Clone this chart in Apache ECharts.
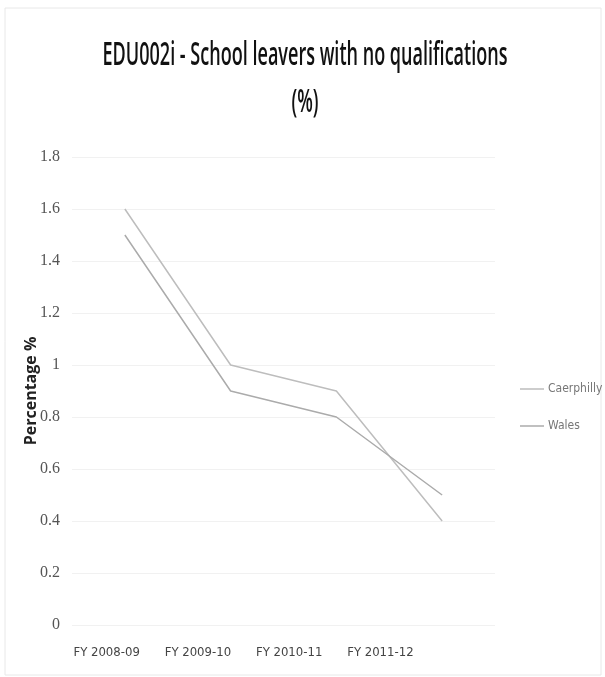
<!DOCTYPE html>
<html>
<head>
<meta charset="utf-8">
<script src="https://cdn.jsdelivr.net/npm/echarts@6/dist/echarts.min.js"></script>
<style>
html,body{margin:0;padding:0;background:#fff;}
#chart{width:605px;height:677px;}
</style>
</head>
<body>
<div id="chart"></div>
<script>
var categories = ['FY 2008-09', 'FY 2009-10', 'FY 2010-11', 'FY 2011-12'];
var caerphilly = [1.6, 1.0, 0.9, 0.4];
var wales = [1.5, 0.9, 0.8, 0.5];
var yTicks = { min: 0, max: 1.8, interval: 0.2 };
var titleLine1 = 'EDU002i - School leavers with no qualifications';
var titleLine2 = '(%)';
var yName = 'Percentage %';

var titleFont = '600 33px "Open Sans", "Noto Sans", sans-serif';
var cv = document.createElement('canvas').getContext('2d');
cv.font = titleFont;
var w1 = cv.measureText(titleLine1).width;
var sx = 405 / w1;

var chart = echarts.init(document.getElementById('chart'), null, {renderer: 'canvas'});
var narrow = '"Liberation Sans Narrow", "DejaVu Sans Condensed", "Liberation Sans", sans-serif';
chart.setOption({
  backgroundColor: '#fff',
  animation: false,
  graphic: [
    { type: 'rect', shape: { x: 5, y: 8, width: 596, height: 667 }, style: { fill: 'none', stroke: '#e8e8e8', lineWidth: 1 } },
    { type: 'text', x: 305, y: 56, scaleX: sx, style: { text: titleLine1, font: titleFont, fill: '#111', textAlign: 'center', textVerticalAlign: 'middle' } },
    { type: 'text', x: 305, y: 103, scaleX: sx, style: { text: titleLine2, font: titleFont, fill: '#111', textAlign: 'center', textVerticalAlign: 'middle' } }
  ],
  legend: {
    orient: 'vertical',
    left: 515,
    top: 378,
    itemGap: 25,
    itemWidth: 24,
    itemHeight: 1.5,
    icon: 'rect',
    textStyle: { color: '#777', fontSize: 12, fontFamily: narrow, padding: [0, 0, 0, -1] },
    data: ['Caerphilly', 'Wales']
  },
  grid: [
    { left: 72, right: 110, top: 157, bottom: 52, containLabel: false },
    { left: 61, width: 365, top: 157, bottom: 52, containLabel: false }
  ],
  xAxis: [
    { type: 'category', gridIndex: 0, data: categories, boundaryGap: true,
      axisLine: { show: false }, axisTick: { show: false }, axisLabel: { show: false } },
    { type: 'category', gridIndex: 1, data: categories, boundaryGap: true,
      axisLine: { show: false }, axisTick: { show: false },
      axisLabel: { show: true, margin: 21, color: '#444', fontSize: 13, fontFamily: narrow } }
  ],
  yAxis: [
    { type: 'value', gridIndex: 0, min: yTicks.min, max: yTicks.max, interval: yTicks.interval,
      name: yName, nameLocation: 'middle', nameGap: 33, nameRotate: 90, nameMoveOverlap: false,
      nameTextStyle: { fontWeight: 'bold', fontSize: 16, color: '#222', fontFamily: '"Open Sans", sans-serif' },
      axisLine: { show: false }, axisTick: { show: false },
      axisLabel: { margin: 12, color: '#555', fontSize: 16, fontFamily: '"Liberation Serif", serif',
        formatter: function (v) { return String(+v.toFixed(1)); } },
      splitLine: { show: true, lineStyle: { color: '#f1f1f1', width: 1 } } },
    { type: 'value', gridIndex: 1, min: yTicks.min, max: yTicks.max, interval: yTicks.interval, show: false,
      splitLine: { show: false } }
  ],
  series: [
    { name: 'Caerphilly', type: 'line', xAxisIndex: 0, yAxisIndex: 0, data: caerphilly, symbol: 'none',
      lineStyle: { color: '#bdbdbd', width: 1.5 }, itemStyle: { color: '#bdbdbd' } },
    { name: 'Wales', type: 'line', xAxisIndex: 0, yAxisIndex: 0, data: wales, symbol: 'none',
      lineStyle: { color: '#ababab', width: 1.5 }, itemStyle: { color: '#ababab' } }
  ]
});
</script>
</body>
</html>
